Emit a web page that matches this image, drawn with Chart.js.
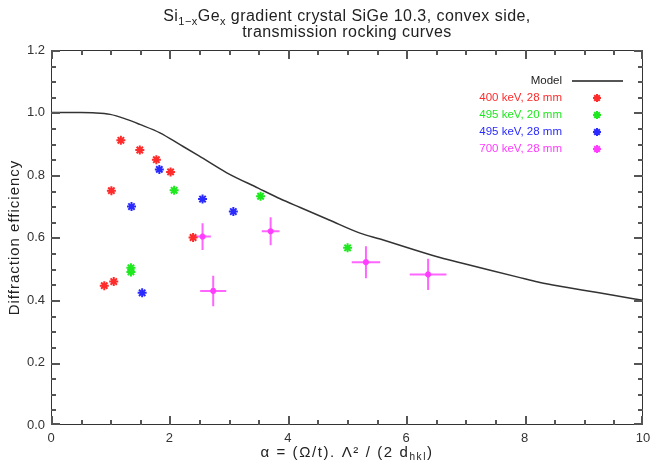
<!DOCTYPE html>
<html>
<head>
<meta charset="utf-8">
<script src="https://cdn.jsdelivr.net/npm/chart.js@4.4.1/dist/chart.umd.min.js"></script>
<style>
  html, body { margin: 0; padding: 0; background: #fff; }
  #wrap { width: 651px; height: 465px; }
</style>
</head>
<body>
<div id="wrap"><canvas id="chart" width="651" height="465"></canvas></div>
<script>
// ---- data ----
const modelX = [0, 0.5, 0.7, 1.0, 1.28, 1.5, 1.84, 2.18, 2.5, 2.97, 3.5, 3.87, 4.21, 4.7, 5.22, 5.56, 6.0, 6.57, 7.0, 7.42, 8.0, 8.26, 8.7, 9.1, 9.5, 10];
const modelY = [1.0, 1.0, 0.999, 0.994, 0.978, 0.962, 0.935, 0.897, 0.861, 0.807, 0.758, 0.724, 0.696, 0.656, 0.614, 0.595, 0.569, 0.536, 0.515, 0.495, 0.468, 0.456, 0.441, 0.428, 0.415, 0.399];

const red400X = [1.18, 1.50, 1.78, 2.02, 1.02, 2.40, 0.90, 1.06];
const red400Y = [0.911, 0.880, 0.849, 0.810, 0.750, 0.600, 0.446, 0.459];

const green495X = [2.08, 3.54, 5.01, 1.35, 1.35];
const green495Y = [0.751, 0.732, 0.567, 0.503, 0.490];

const blue495X = [1.83, 2.56, 1.36, 3.08, 1.54];
const blue495Y = [0.818, 0.723, 0.699, 0.683, 0.423];

const mag700X = [2.56, 3.71, 2.74, 5.32, 6.37];
const mag700Y = [0.603, 0.620, 0.429, 0.521, 0.482];
const mag700XErr = [0.14, 0.15, 0.22, 0.24, 0.31];
const mag700YErr = [0.043, 0.045, 0.049, 0.051, 0.050];

const legendLabels = ['Model', '400 keV, 28 mm', '495 keV, 20 mm', '495 keV, 28 mm', '700 keV, 28 mm'];
const xTicks = [0, 2, 4, 6, 8, 10];
const yTicks = [0, 0.2, 0.4, 0.6, 0.8, 1.0, 1.2];

const colors = ['#333333', '#ff2a2a', '#1ee81e', '#2a2aff', '#ff3cff'];
const FONT = "'Liberation Sans', Arial, sans-serif";

const toPts = (xs, ys) => xs.map((v, i) => ({ x: v, y: ys[i] }));

// error bars for the 700 keV set
const errorBars = {
  id: 'errorBars',
  beforeDatasetsDraw(chart) {
    const { ctx, scales: { x, y } } = chart;
    ctx.save();
    ctx.strokeStyle = '#ff66ff';
    ctx.lineWidth = 2;
    mag700X.forEach((v, i) => {
      const px = x.getPixelForValue(v), py = y.getPixelForValue(mag700Y[i]);
      ctx.beginPath();
      ctx.moveTo(x.getPixelForValue(v - mag700XErr[i]), py);
      ctx.lineTo(x.getPixelForValue(v + mag700XErr[i]), py);
      ctx.moveTo(px, y.getPixelForValue(mag700Y[i] - mag700YErr[i]));
      ctx.lineTo(px, y.getPixelForValue(mag700Y[i] + mag700YErr[i]));
      ctx.stroke();
    });
    ctx.restore();
  }
};

// box with inward ticks on all four sides (IDL style)
const boxTicks = {
  id: 'boxTicks',
  afterDraw(chart) {
    const { ctx, chartArea: a } = chart;
    const x = chart.scales.x, y = chart.scales.y;
    const L = Math.round(a.left), R = Math.round(a.right) - 1;
    const T = Math.round(a.top), B = Math.round(a.bottom) - 1;
    ctx.save();
    ctx.fillStyle = '#333';
    ctx.fillRect(L, T, R - L + 1, 1);
    ctx.fillRect(L, B, R - L + 1, 1);
    ctx.fillRect(L, T, 1, B - T + 1);
    ctx.fillRect(R, T, 1, B - T + 1);
    ctx.fillStyle = '#555';
    for (let k = 0; k <= 20; k++) {
      let px = Math.round(x.getPixelForValue(k * 0.5));
      if (px > R - 1) px = R - 1;
      const len = k % 4 === 0 ? 9 : 5;
      ctx.fillRect(px, B - len + 1, 2, len);
      ctx.fillRect(px, T, 2, len);
    }
    for (let k = 0; k <= 24; k++) {
      let py = Math.round(y.getPixelForValue(k * 0.05));
      if (py > B - 1) py = B - 1;
      const len = k % 4 === 0 ? 9 : 5;
      ctx.fillRect(L, py, len, 2);
      ctx.fillRect(R - len + 1, py, len, 2);
    }
    ctx.restore();
  }
};

// text runs with subscripts
function drawRuns(ctx, runs, cx, base, size, spacing) {
  const subSize = Math.round(size * 0.68);
  ctx.letterSpacing = (spacing || 0) + 'px';
  let w = 0;
  runs.forEach(r => {
    ctx.font = (r.sub ? subSize : size) + 'px ' + FONT;
    r.w = ctx.measureText(r.t).width;
    w += r.w;
  });
  let xx = cx - w / 2;
  ctx.textAlign = 'left';
  ctx.textBaseline = 'alphabetic';
  runs.forEach(r => {
    ctx.font = (r.sub ? subSize : size) + 'px ' + FONT;
    ctx.fillText(r.t, xx, r.sub ? base + size * 0.22 : base);
    xx += r.w;
  });
  ctx.letterSpacing = '0px';
}

const labels = {
  id: 'labels',
  afterDraw(chart) {
    const { ctx, chartArea: a } = chart;
    const cx = (a.left + a.right) / 2;
    ctx.save();
    ctx.fillStyle = '#222';
    drawRuns(ctx, [{ t: 'Si' }, { t: '1\u2212x', sub: true }, { t: 'Ge' }, { t: 'x', sub: true },
      { t: ' gradient crystal SiGe 10.3, convex side,' }], cx, 21, 16, 0.45);
    drawRuns(ctx, [{ t: 'transmission rocking curves' }], cx, 37, 16, 0.45);
    drawRuns(ctx, [{ t: '\u03b1 = (\u03a9/t). \u039b\u00b2 / (2 d' }, { t: 'hkl', sub: true }, { t: ')' }], cx, 457, 15, 1.6);

    ctx.translate(19, (a.top + a.bottom) / 2);
    ctx.rotate(-Math.PI / 2);
    drawRuns(ctx, [{ t: 'Diffraction efficiency' }], 0, 0, 15, 1);
    ctx.restore();

    // legend
    ctx.save();
    ctx.font = '11.5px ' + FONT;
    ctx.textAlign = 'right';
    ctx.textBaseline = 'middle';
    const rowY = [81, 98, 115, 132, 149];
    legendLabels.forEach((t, i) => {
      ctx.fillStyle = i === 0 ? '#222' : colors[i];
      ctx.fillText(t, 562, rowY[i]);
      if (i === 0) {
        ctx.strokeStyle = '#555';
        ctx.lineWidth = 2;
        ctx.beginPath();
        ctx.moveTo(572, rowY[i]); ctx.lineTo(623, rowY[i]);
        ctx.stroke();
      } else {
        ctx.strokeStyle = colors[i];
        ctx.lineWidth = 2;
        Chart.helpers.drawPoint(ctx, { pointStyle: 'star', radius: 4, borderWidth: 2 }, 597, rowY[i]);
      }
    });
    ctx.restore();
  }
};

const starSet = (label, xs, ys, col, r) => ({
  label, data: toPts(xs, ys), type: 'scatter',
  pointStyle: 'star', pointRadius: r, borderColor: col, backgroundColor: col,
  pointBorderWidth: 2, showLine: false
});

const noPad = s => { s.paddingLeft = 0; s.paddingRight = 0; s.paddingTop = 0; s.paddingBottom = 0; };

new Chart(document.getElementById('chart'), {
  type: 'scatter',
  data: {
    datasets: [
      {
        label: 'Model', type: 'line', data: toPts(modelX, modelY),
        borderColor: colors[0], borderWidth: 1.5, pointRadius: 0,
        cubicInterpolationMode: 'monotone', fill: false
      },
      starSet('400 keV, 28 mm', red400X, red400Y, colors[1], 4.5),
      starSet('495 keV, 20 mm', green495X, green495Y, colors[2], 4.5),
      starSet('495 keV, 28 mm', blue495X, blue495Y, colors[3], 4.5),
      starSet('700 keV, 28 mm', mag700X, mag700Y, colors[4], 3)
    ]
  },
  options: {
    responsive: false,
    animation: false,
    devicePixelRatio: 1,
    layout: { padding: { left: 0, right: 8, top: 50, bottom: 0 } },
    plugins: { legend: { display: false }, tooltip: { enabled: false } },
    scales: {
      x: {
        type: 'linear', min: 0, max: 10,
        afterFit: s => { s.height = 40; noPad(s); },
        afterBuildTicks: s => { s.ticks = xTicks.map(v => ({ value: v })); },
        grid: { display: false, drawTicks: false },
        border: { display: false },
        ticks: { padding: 6, color: '#333', font: { family: FONT, size: 13 }, maxRotation: 0 }
      },
      y: {
        type: 'linear', min: 0, max: 1.2,
        afterFit: s => { s.width = 51; noPad(s); },
        afterBuildTicks: s => { s.ticks = yTicks.map(v => ({ value: v })); },
        grid: { display: false, drawTicks: false },
        border: { display: false },
        ticks: { padding: 6, color: '#333', font: { family: FONT, size: 13 }, callback: v => v.toFixed(1) }
      }
    }
  },
  plugins: [errorBars, boxTicks, labels]
});
</script>
</body>
</html>
